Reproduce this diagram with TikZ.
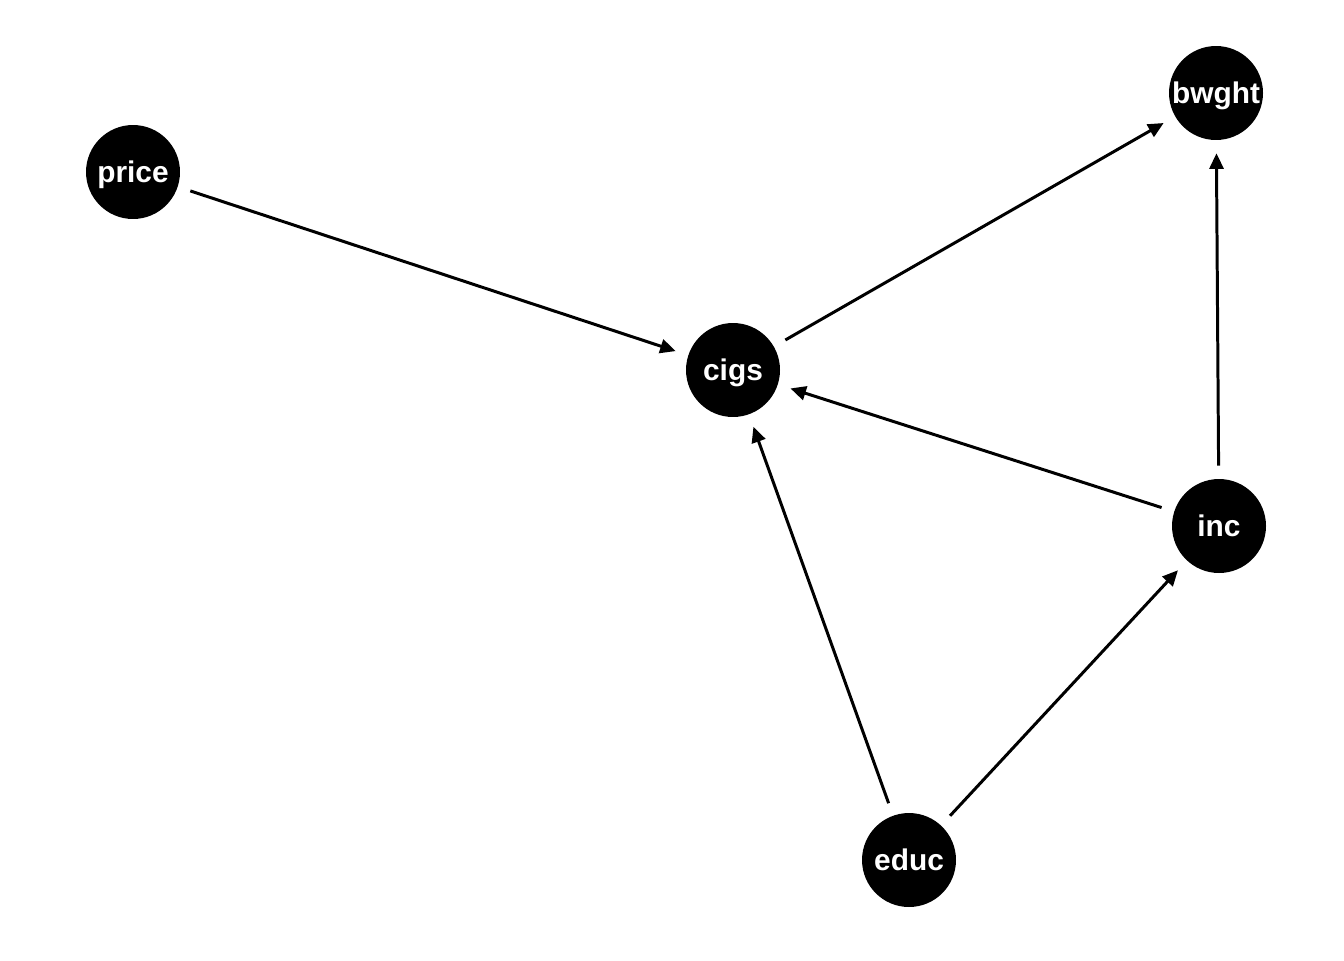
\documentclass[tikz,border=0pt]{standalone}
\usepackage{fontspec}
\setmainfont{Liberation Sans}
\usetikzlibrary{arrows.meta}

\begin{document}
\begin{tikzpicture}[
    x=0.02cm, y=-0.02cm,
    var/.style={circle, fill=black, text=white, minimum size=1.88cm, inner sep=0pt, text height=12pt, text depth=0pt, font=\fontsize{17}{19}\selectfont\bfseries},
    arrow/.style={-{Triangle[length=3.1mm, width=2.8mm]}, line width=1.7pt, shorten <=0.26cm, shorten >=0.26cm}
]
\useasboundingbox (0,0) rectangle (1344,960);

% Variables
\node[var] (price) at (133,172) {price};
\node[var] (cigs) at (733,370) {cigs};
\node[var] (bwght) at (1216,93) {bwght};
\node[var] (inc) at (1219,526) {inc};
\node[var] (educ) at (909,860) {educ};

% Causal arrows
\draw[arrow] (price) -- (cigs);
\draw[arrow] (cigs) -- (bwght);
\draw[arrow] (inc) -- (bwght);
\draw[arrow] (inc) -- (cigs);
\draw[arrow] (educ) -- (cigs);
\draw[arrow] (educ) -- (inc);
\end{tikzpicture}
\end{document}
